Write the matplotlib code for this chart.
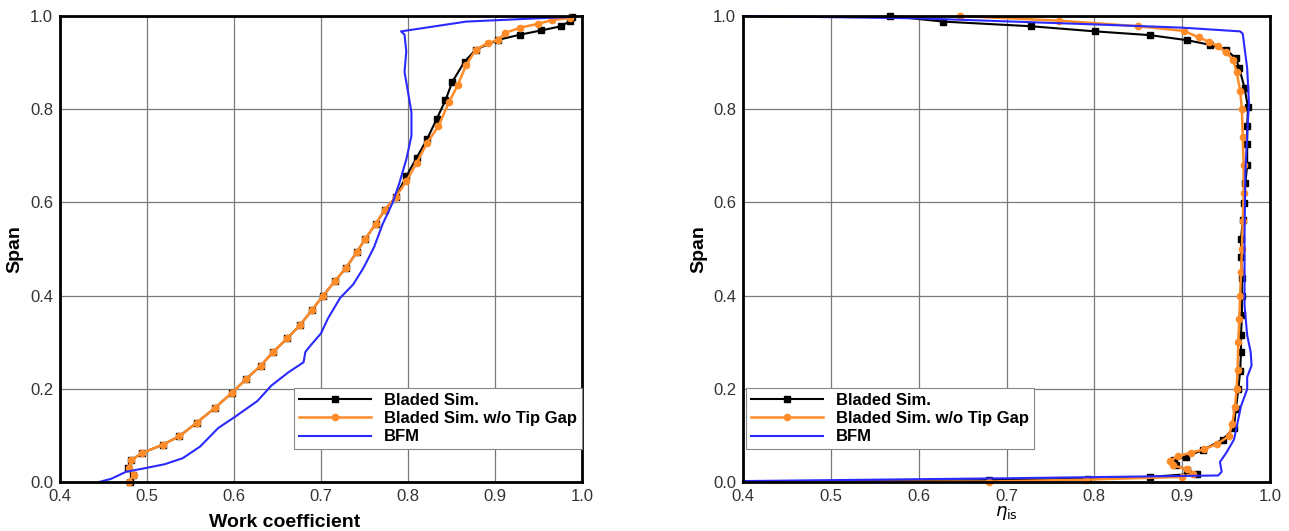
import matplotlib
matplotlib.use("Agg")
import matplotlib.pyplot as plt

plt.rcParams['font.family'] = ['Liberation Sans', 'DejaVu Sans']

# ---- left plot: work coefficient vs span ----
wc_bladed_x = [0.480, 0.484, 0.478, 0.482, 0.494, 0.518, 0.537, 0.557, 0.578, 0.598, 0.614,
               0.631, 0.645, 0.661, 0.676, 0.690, 0.702, 0.716, 0.729, 0.741, 0.751,
               0.763, 0.773, 0.786, 0.798, 0.810, 0.822, 0.833, 0.843, 0.851, 0.865,
               0.878, 0.904, 0.929, 0.953, 0.976, 0.986, 0.988]
wc_bladed_y = [0.000, 0.015, 0.030, 0.047, 0.062, 0.080, 0.098, 0.127, 0.159, 0.192, 0.221,
               0.250, 0.279, 0.308, 0.337, 0.370, 0.399, 0.431, 0.460, 0.493, 0.522,
               0.554, 0.583, 0.612, 0.656, 0.696, 0.736, 0.779, 0.819, 0.859, 0.902,
               0.928, 0.949, 0.960, 0.969, 0.978, 0.989, 0.998]

wc_notip_x = [0.479, 0.485, 0.479, 0.482, 0.494, 0.518, 0.537, 0.557, 0.578, 0.598, 0.614,
              0.631, 0.645, 0.661, 0.676, 0.690, 0.702, 0.716, 0.729, 0.741, 0.751,
              0.763, 0.773, 0.786, 0.798, 0.810, 0.822, 0.835, 0.847, 0.857, 0.867,
              0.878, 0.892, 0.904, 0.912, 0.929, 0.949, 0.965, 0.986]
wc_notip_y = [0.000, 0.015, 0.030, 0.047, 0.062, 0.080, 0.098, 0.127, 0.159, 0.192, 0.221,
              0.250, 0.279, 0.308, 0.337, 0.370, 0.399, 0.431, 0.460, 0.493, 0.522,
              0.554, 0.583, 0.612, 0.645, 0.685, 0.728, 0.764, 0.815, 0.851, 0.895,
              0.928, 0.942, 0.949, 0.964, 0.975, 0.983, 0.991, 0.996]

wc_bfm_x = [0.445, 0.459, 0.476, 0.496, 0.520, 0.541, 0.561, 0.582, 0.602, 0.627, 0.643,
            0.663, 0.680, 0.682, 0.688, 0.700, 0.708, 0.722, 0.737, 0.749, 0.761,
            0.771, 0.782, 0.790, 0.798, 0.804, 0.804, 0.800, 0.796, 0.798, 0.796,
            0.792, 0.867, 0.949, 0.988]
wc_bfm_y = [0.000, 0.007, 0.022, 0.029, 0.038, 0.051, 0.076, 0.116, 0.141, 0.174, 0.207,
            0.236, 0.257, 0.279, 0.293, 0.319, 0.351, 0.395, 0.424, 0.460, 0.504,
            0.554, 0.598, 0.641, 0.692, 0.743, 0.793, 0.837, 0.880, 0.924, 0.960,
            0.967, 0.988, 0.995, 0.998]

# ---- right plot: isentropic efficiency vs span ----
eta_bladed_x = [0.400, 0.680, 0.793, 0.863, 0.917, 0.906, 0.893, 0.891, 0.904, 0.924, 0.946,
                0.959, 0.961, 0.964, 0.966, 0.967, 0.967, 0.968, 0.968, 0.968, 0.967,
                0.967, 0.969, 0.970, 0.972, 0.974, 0.974, 0.974, 0.975, 0.971, 0.965,
                0.961, 0.950, 0.932, 0.906, 0.863, 0.801, 0.728, 0.628, 0.567]
eta_bladed_y = [0.000, 0.004, 0.007, 0.011, 0.018, 0.025, 0.036, 0.047, 0.054, 0.069, 0.091,
                0.116, 0.156, 0.199, 0.239, 0.279, 0.315, 0.359, 0.399, 0.438, 0.482,
                0.522, 0.562, 0.598, 0.641, 0.681, 0.725, 0.764, 0.804, 0.846, 0.888,
                0.909, 0.928, 0.938, 0.948, 0.959, 0.967, 0.978, 0.988, 1.000]

eta_notip_x = [0.400, 0.680, 0.790, 0.900, 0.912, 0.905, 0.890, 0.886, 0.895, 0.910, 0.925,
               0.940, 0.953, 0.957, 0.960, 0.962, 0.963, 0.964, 0.965, 0.966, 0.967,
               0.968, 0.969, 0.970, 0.970, 0.969, 0.968, 0.966, 0.962, 0.958, 0.950,
               0.941, 0.930, 0.919, 0.902, 0.850, 0.760, 0.647]
eta_notip_y = [0.000, 0.001, 0.005, 0.011, 0.018, 0.027, 0.036, 0.045, 0.055, 0.063, 0.070,
               0.082, 0.098, 0.125, 0.160, 0.200, 0.240, 0.300, 0.350, 0.400, 0.450,
               0.500, 0.560, 0.620, 0.680, 0.740, 0.800, 0.840, 0.880, 0.906, 0.922,
               0.935, 0.945, 0.954, 0.968, 0.978, 0.990, 1.000]

eta_bfm_x = [0.400, 0.700, 0.941, 0.945, 0.943, 0.950, 0.959, 0.963, 0.967, 0.974, 0.974,
             0.979, 0.978, 0.974, 0.971, 0.971, 0.972, 0.976, 0.974, 0.969, 0.966,
             0.900, 0.800, 0.600, 0.400]
eta_bfm_y = [0.002, 0.008, 0.014, 0.022, 0.043, 0.062, 0.091, 0.127, 0.163, 0.199, 0.225,
             0.250, 0.279, 0.315, 0.380, 0.525, 0.670, 0.815, 0.888, 0.962, 0.967,
             0.975, 0.982, 0.995, 1.000]

labels = ['Bladed Sim.', 'Bladed Sim. w/o Tip Gap', 'BFM']
c_black = '#000000'
c_orange = '#ff8c28'
c_blue = '#2a2aff'

fig = plt.figure(figsize=(12.89, 5.31), dpi=100)
ax1 = fig.add_axes([60 / 1289, 1 - 482 / 531, 522 / 1289, 466 / 531])
ax2 = fig.add_axes([743 / 1289, 1 - 482 / 531, 527 / 1289, 466 / 531])


def style(ax):
    ax.set_xlim(0.4, 1.0)
    ax.set_ylim(0.0, 1.0)
    ax.set_xticks([0.4, 0.5, 0.6, 0.7, 0.8, 0.9, 1.0])
    ax.set_yticks([0.0, 0.2, 0.4, 0.6, 0.8, 1.0])
    ax.xaxis.set_major_formatter(plt.FormatStrFormatter('%.1f'))
    ax.yaxis.set_major_formatter(plt.FormatStrFormatter('%.1f'))
    ax.grid(True, color='#7a7a7a', linewidth=0.9)
    ax.set_axisbelow(True)
    ax.tick_params(length=0, pad=5, labelsize=12, labelcolor='#333333')
    for s in ax.spines.values():
        s.set_linewidth(2.0)
        s.set_color('black')
        s.set_zorder(5)


for ax, mstart, (bx, by, ox, oy, fx, fy) in [
        (ax1, 0, (wc_bladed_x, wc_bladed_y, wc_notip_x, wc_notip_y, wc_bfm_x, wc_bfm_y)),
        (ax2, 1, (eta_bladed_x, eta_bladed_y, eta_notip_x, eta_notip_y, eta_bfm_x, eta_bfm_y))]:
    style(ax)
    ax.plot(bx, by, color=c_black, lw=1.5, marker='s', ms=4, markevery=slice(mstart, None),
            label=labels[0], clip_on=False, zorder=3)
    ax.plot(ox, oy, color=c_orange, lw=1.8, marker='o', ms=4.5, markevery=slice(mstart, None),
            label=labels[1], clip_on=False, zorder=3)
    ax.plot(fx, fy, color=c_blue, lw=1.5, label=labels[2], clip_on=False, zorder=4)
    ax.set_ylabel('Span', fontsize=14, fontweight='bold')

ax1.yaxis.set_label_coords(-0.071, 0.5)
ax2.yaxis.set_label_coords(-0.068, 0.5)

ax1.set_xlabel('Work coefficient', fontsize=14, fontweight='bold')
ax1.xaxis.set_label_coords(0.43, -0.068)
ax2.set_xlabel(r'$\eta_{\mathrm{is}}$', fontsize=13, labelpad=0)

prop = {'weight': 'bold', 'size': 12}
leg_kw = dict(prop=prop, frameon=True, fancybox=False, framealpha=1, edgecolor='#888888',
              handlelength=4.3, handletextpad=0.8, labelspacing=0.2, borderpad=0.3,
              borderaxespad=0)
l1 = ax1.legend(loc='lower right', bbox_to_anchor=(1.0, 0.07), **leg_kw)
l2 = ax2.legend(loc='lower left', bbox_to_anchor=(0.006, 0.07), **leg_kw)
for l in (l1, l2):
    l.get_frame().set_linewidth(0.8)

fig.savefig('out.png', dpi=100)
